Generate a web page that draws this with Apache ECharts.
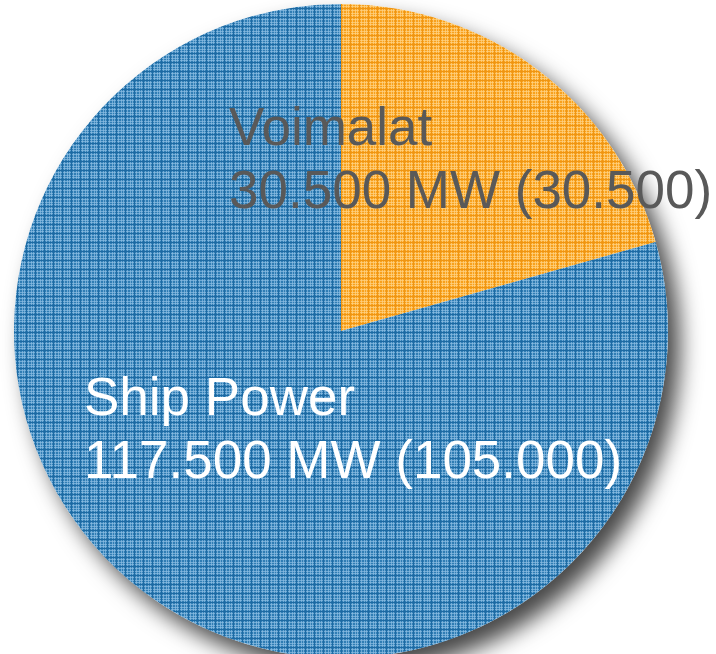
<!DOCTYPE html>
<html>
<head>
<meta charset="utf-8">
<script src="https://cdn.jsdelivr.net/npm/echarts@6/dist/echarts.min.js"></script>
<style>
  html, body { margin: 0; padding: 0; background: #fff; }
  #chart { width: 716px; height: 654px; }
</style>
</head>
<body>
<div id="chart"></div>
<script>
// data
const names = ['Voimalat', 'Ship Power']
const values = [30.5, 117.5]
const prevValues = ['30.500', '105.000']
const valueLabels = ['30.500 MW', '117.500 MW']

// plaid texture like the original fill
function plaid(base, light, dark) {
  const c = document.createElement('canvas')
  c.width = 9
  c.height = 9
  const g = c.getContext('2d')
  g.fillStyle = base
  g.fillRect(0, 0, 9, 9)
  g.fillStyle = light
  ;[1, 4, 6].forEach(i => {
    g.fillRect(i, 0, 1, 9)
    g.fillRect(0, i, 9, 1)
  })
  g.fillStyle = dark
  g.fillRect(8, 0, 1, 9)
  g.fillRect(0, 8, 9, 1)
  return { image: c, repeat: 'repeat' }
}

const colors = [
  plaid('#f8a11c', 'rgba(255,210,130,0.75)', '#ef9512'),
  plaid('#2f7db4', 'rgba(140,190,226,0.7)', '#1d6aa3')
]
const labelColors = ['#595959', '#ffffff']
// label block anchors (left / vertical middle)
const labelPos = [[229, 162], [84, 432]]

const chart = echarts.init(document.getElementById('chart'))

chart.setOption({
  animation: false,
  series: [
    {
      // backdrop only for the drop shadow
      type: 'pie',
      silent: true,
      z: 1,
      center: [341, 331],
      radius: 327,
      label: { show: false },
      itemStyle: {
        color: '#ffffff',
        shadowBlur: 22,
        shadowOffsetX: 12,
        shadowOffsetY: 14,
        shadowColor: 'rgba(0,0,0,0.72)'
      },
      data: [{ value: values.reduce((a, b) => a + b, 0) }]
    },
    {
      type: 'pie',
      z: 2,
      center: [341, 331],
      radius: 327,
      startAngle: 90,
      clockwise: true,
      itemStyle: { borderWidth: 0 },
      label: {
        show: true,
        position: 'inside',
        fontFamily: 'Liberation Sans, Arial, sans-serif',
        fontSize: 53,
        lineHeight: 63,
        align: 'left',
        formatter: p => p.name + '\n' + valueLabels[p.dataIndex] + ' (' + prevValues[p.dataIndex] + ')'
      },
      labelLine: { show: false },
      labelLayout: p => ({
        x: labelPos[p.dataIndex][0],
        y: labelPos[p.dataIndex][1],
        align: 'left',
        verticalAlign: 'middle'
      }),
      data: names.map((n, i) => ({
        name: n,
        value: values[i],
        itemStyle: { color: colors[i] },
        label: { color: labelColors[i] }
      }))
    }
  ]
})
</script>
</body>
</html>
